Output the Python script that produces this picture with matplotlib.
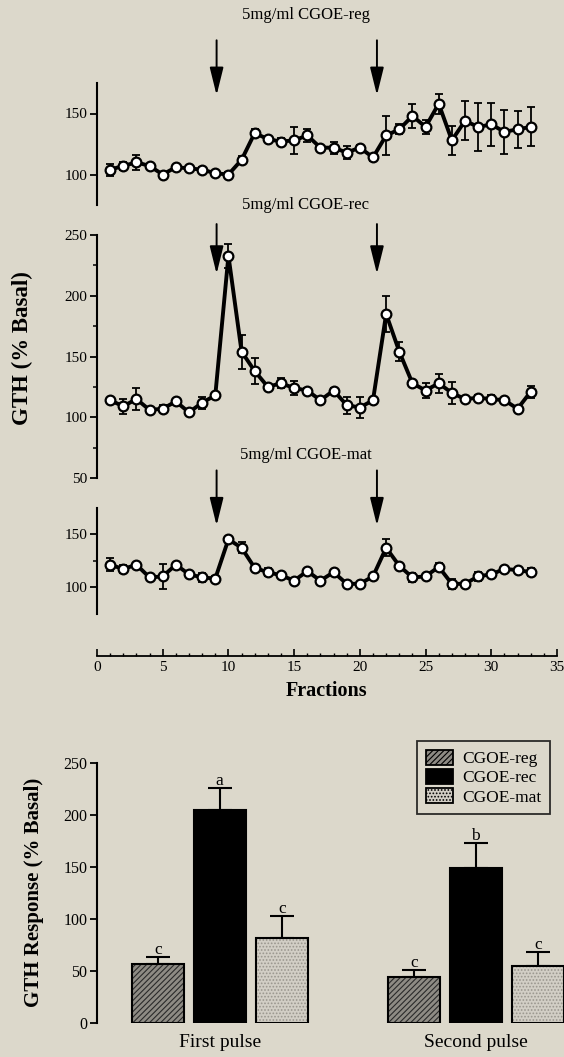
"""
GTH release from perifused cells after two 5mg/ml CGOE pulses,
three time courses plus the summary bar chart
"""

import matplotlib.pyplot as plt
import numpy as np

plt.rcParams['font.family'] = ['Liberation Serif', 'DejaVu Serif']
plt.rcParams['hatch.linewidth'] = 0.8

BG = '#dcd8cb'

# time course data (fractions 1..33), % basal and SEM
fractions = np.arange(1, 34)
reg_mean = [104, 107, 110, 107, 100, 106, 105, 104, 101, 100, 112, 134, 129, 127, 128, 132, 122,
            122, 118, 122, 114, 132, 137, 148, 139, 158, 128, 144, 139, 141, 135, 137, 139]
reg_sem = [5, 3, 6, 2, 2, 2, 2, 2, 2, 2, 3, 3, 2, 3, 11, 5, 2,
           5, 5, 2, 3, 16, 4, 10, 6, 8, 12, 16, 20, 18, 18, 15, 16]
rec_mean = [114, 109, 115, 106, 107, 113, 104, 112, 118, 233, 154, 138, 125, 128, 124, 122, 114,
            122, 110, 108, 114, 185, 154, 128, 122, 128, 120, 115, 116, 115, 114, 107, 121]
rec_sem = [2, 6, 9, 2, 3, 2, 2, 5, 2, 10, 14, 11, 2, 4, 6, 2, 2,
           2, 7, 9, 2, 15, 8, 2, 6, 8, 9, 2, 2, 3, 2, 2, 5]
mat_mean = [121, 117, 121, 109, 110, 121, 112, 109, 108, 145, 137, 118, 114, 111, 106, 115, 106,
            114, 103, 103, 110, 137, 120, 109, 110, 119, 103, 103, 110, 112, 117, 116, 114]
mat_sem = [6, 4, 2, 2, 12, 2, 2, 4, 2, 2, 5, 2, 4, 2, 2, 2, 2,
           2, 2, 2, 2, 8, 2, 4, 2, 4, 5, 2, 4, 2, 2, 2, 4]
pulse_at = [9.1, 21.3]

# summary bars
groups = ['First pulse', 'Second pulse']
bar_names = ['CGOE-reg', 'CGOE-rec', 'CGOE-mat']
bar_mean = [[56, 205, 81], [44, 149, 55]]
bar_sem = [[7, 21, 22], [6.5, 24, 13]]
bar_letters = [['c', 'a', 'c'], ['c', 'b', 'c']]

fig = plt.figure(figsize=(5.64, 10.57), dpi=100)
fig.patch.set_facecolor(BG)

W, H = 564.0, 1057.0


def px_axes(left, top, right, bottom):
    # axes placed by pixel edges
    ax = fig.add_axes([left / W, 1 - bottom / H, (right - left) / W, (bottom - top) / H])
    ax.set_facecolor('none')
    for s in ['top', 'right', 'bottom']:
        ax.spines[s].set_visible(False)
    ax.spines['left'].set_linewidth(1.5)
    ax.tick_params(axis='y', direction='out', length=5, width=1.3, labelsize=11, pad=2)
    ax.set_xticks([])
    return ax


def time_course(ax, mean, sem, ylim, yticks, arrow_y, minor=None):
    ax.set_xlim(0, 35)
    ax.set_ylim(*ylim)
    ax.set_yticks(yticks)
    if minor is not None:
        ax.set_yticks(minor, minor=True)
        ax.tick_params(axis='y', which='minor', direction='out', length=3, width=1.1)
    ax.errorbar(fractions, mean, yerr=sem, fmt='none', ecolor='black',
                elinewidth=1.3, capsize=2.6, capthick=1.3, clip_on=False, zorder=2)
    ax.plot(fractions, mean, color='black', lw=2.8, marker='o', ms=7,
            mfc='white', mec='black', mew=1.6, clip_on=False, zorder=3)
    for xp in pulse_at:
        ax.annotate('', xy=(xp, arrow_y[1]), xytext=(xp, arrow_y[0]),
                    annotation_clip=False,
                    arrowprops=dict(arrowstyle='-|>,head_length=1.7,head_width=0.42',
                                    color='black', lw=1.4, shrinkA=0, shrinkB=0))
    return ax


# top: CGOE-reg
ax1 = px_axes(97, 83, 557, 205)
time_course(ax1, reg_mean, reg_sem, (75, 175), [100, 150], (210, 165))
fig.text(306 / W, 1 - 15 / H, '5mg/ml CGOE-reg', ha='center', va='center', fontsize=12)

# middle: CGOE-rec
ax2 = px_axes(97, 235, 557, 478)
time_course(ax2, rec_mean, rec_sem, (50, 250), [50, 100, 150, 200, 250],
            (259, 218), minor=[75, 125, 175, 225])
fig.text(306 / W, 1 - 205 / H, '5mg/ml CGOE-rec', ha='center', va='center', fontsize=12)

# bottom: CGOE-mat
ax3 = px_axes(97, 507.5, 557, 613.5)
time_course(ax3, mat_mean, mat_sem, (75, 175), [100, 150], (210, 158), minor=[125])
fig.text(306 / W, 1 - 455 / H, '5mg/ml CGOE-mat', ha='center', va='center', fontsize=12)

fig.text(22 / W, 1 - 348 / H, 'GTH (% Basal)', rotation=90, ha='center', va='center',
         fontsize=16.5, fontweight='bold')

# shared fraction axis
axf = fig.add_axes([97 / W, 1 - 655.7 / H, 460 / W, 0.02])
axf.set_facecolor('none')
for s in ['top', 'right', 'left']:
    axf.spines[s].set_visible(False)
axf.spines['bottom'].set_linewidth(1.3)
axf.set_xlim(0, 35)
axf.set_yticks([])
axf.set_xticks(np.arange(0, 36, 5))
axf.set_xticks(np.arange(0, 36, 1), minor=True)
axf.tick_params(axis='x', which='major', direction='in', length=5, width=1.2, labelsize=11, pad=4)
axf.tick_params(axis='x', which='minor', direction='in', length=2.5, width=1.0)
axf.set_xlabel('Fractions', fontsize=14.5, fontweight='bold', labelpad=5)

# summary bar chart
axb = fig.add_axes([97 / W, 1 - 1022.7 / H, 467 / W, 260 / H])
axb.set_facecolor('none')
for s in ['top', 'right', 'bottom']:
    axb.spines[s].set_visible(False)
axb.spines['left'].set_linewidth(1.5)
axb.set_xlim(-0.479, 1.345)
axb.set_ylim(0, 250)
axb.set_yticks([0, 50, 100, 150, 200, 250])
axb.tick_params(axis='y', direction='out', length=5, width=1.3, labelsize=11.5, pad=2)
axb.tick_params(axis='x', length=0, labelsize=14, pad=8)
axb.set_xticks([0, 1])
axb.set_xticklabels(groups)
axb.set_ylabel('GTH Response (% Basal)', fontsize=15, fontweight='bold', labelpad=14)

# fill styles: hatch colour follows edgecolor, so the pattern layer has its own edge
fills = [dict(facecolor='#8e8b84', hatch='//////', edgecolor='#2a2a2a'),
         dict(facecolor='black', edgecolor='black'),
         dict(facecolor='#d2cec5', hatch='.....', edgecolor='#9a968e')]
offsets = [-0.239, 0, 0.243]
width = 0.203
handles = []
for g in range(len(groups)):
    for k in range(3):
        xk = g + offsets[k]
        bars = axb.bar(xk, bar_mean[g][k], width=width, linewidth=0, zorder=2, **fills[k])
        axb.bar(xk, bar_mean[g][k], width=width, fill=False, edgecolor='black',
                linewidth=1.5, zorder=3)
        if g == 0:
            handles.append(bars[0])
        axb.errorbar(xk, bar_mean[g][k], yerr=[[0], [bar_sem[g][k]]], fmt='none',
                     ecolor='black', elinewidth=1.5, capsize=8.5, capthick=1.5, zorder=1)
        axb.text(xk, bar_mean[g][k] + bar_sem[g][k] - 1, bar_letters[g][k],
                 ha='center', va='bottom', fontsize=12.5)

# legend keys with the black outline of the bars
from matplotlib.patches import Patch
keys = [Patch(linewidth=1.3, **{**fills[k], 'edgecolor': fills[k]['edgecolor']}) for k in range(3)]
leg = axb.legend(keys, bar_names, loc='upper left',
                 bbox_to_anchor=((417 - 97) / 467, 1 + (762.7 - 741) / 260),
                 borderaxespad=0, fontsize=12.5, frameon=True, fancybox=False,
                 handlelength=1.6, handleheight=1.0, labelspacing=0.08, borderpad=0.5,
                 handletextpad=0.5)
for key in leg.get_patches():
    key.set_edgecolor('black')
leg.get_frame().set_edgecolor('black')
leg.get_frame().set_linewidth(1.3)
leg.get_frame().set_facecolor(BG)

fig.savefig('out.png', dpi=100, facecolor=BG)
